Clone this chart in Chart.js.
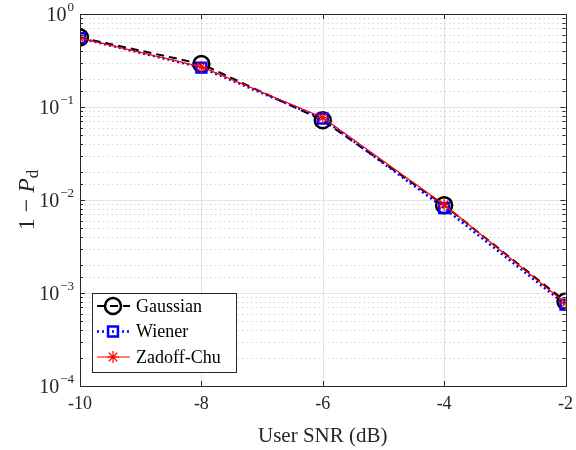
<!DOCTYPE html>
<html>
<head>
<meta charset="utf-8">
<script src="https://cdn.jsdelivr.net/npm/chart.js@4.4.0/dist/chart.umd.min.js"></script>
<style>
  html, body { margin: 0; padding: 0; background: #fff; }
  #wrap { width: 576px; height: 450px; }
</style>
</head>
<body>
<div id="wrap"><canvas id="grafico" width="576" height="450"></canvas></div>
<script>
// dados
const snr = [-10, -8, -6, -4, -2];
const gaussian = [0.56, 0.29, 0.072, 0.0088, 0.00081];
const wiener = [0.55, 0.265, 0.075, 0.0082, 0.00075];
const zadoffChu = [0.55, 0.27, 0.077, 0.0089, 0.00078];
const xTicks = [-10, -8, -6, -4, -2];
const yExpoentes = [0, -1, -2, -3, -4];

const fonte = '"Liberation Serif", "DejaVu Serif", serif';

function pontos(vals) {
    return snr.map(function (x, i) { return { x: x, y: vals[i] }; });
}

// desenha grade, caixa, rótulos e legenda à moda do MATLAB
const estiloMatlab = {
    id: 'estiloMatlab',
    beforeDatasetsDraw(chart) {
        const ctx = chart.ctx;
        const a = chart.chartArea;
        const sx = chart.scales.x, sy = chart.scales.y;
        ctx.save();
        // grade menor (pontilhada)
        ctx.strokeStyle = '#d4d4d4';
        ctx.lineWidth = 1;
        ctx.setLineDash([1.5, 3]);
        sy.ticks.forEach(function (t) {
            const lg = Math.log10(t.value);
            if (Math.abs(lg - Math.round(lg)) < 1e-6) return;
            const y = Math.round(sy.getPixelForValue(t.value)) + 0.5;
            ctx.beginPath(); ctx.moveTo(a.left, y); ctx.lineTo(a.right, y); ctx.stroke();
        });
        // grade maior
        ctx.setLineDash([]);
        ctx.strokeStyle = '#e3e3e3';
        sy.ticks.forEach(function (t) {
            const lg = Math.log10(t.value);
            if (Math.abs(lg - Math.round(lg)) > 1e-6) return;
            const y = Math.round(sy.getPixelForValue(t.value)) + 0.5;
            ctx.beginPath(); ctx.moveTo(a.left, y); ctx.lineTo(a.right, y); ctx.stroke();
        });
        sx.ticks.forEach(function (t) {
            const x = Math.round(sx.getPixelForValue(t.value)) + 0.5;
            ctx.beginPath(); ctx.moveTo(x, a.top); ctx.lineTo(x, a.bottom); ctx.stroke();
        });
        ctx.restore();
    },
    afterDatasetsDraw(chart) {
        const ctx = chart.ctx;
        const a = chart.chartArea;
        const sx = chart.scales.x, sy = chart.scales.y;
        ctx.save();
        ctx.strokeStyle = '#262626';
        ctx.lineWidth = 1;
        // marcas (para dentro)
        sy.ticks.forEach(function (t) {
            const lg = Math.log10(t.value);
            const maior = Math.abs(lg - Math.round(lg)) < 1e-6;
            const L = maior ? 5 : 3;
            const y = Math.round(sy.getPixelForValue(t.value)) + 0.5;
            ctx.beginPath();
            ctx.moveTo(a.left, y); ctx.lineTo(a.left + L, y);
            ctx.moveTo(a.right, y); ctx.lineTo(a.right - L, y);
            ctx.stroke();
        });
        sx.ticks.forEach(function (t) {
            const x = Math.round(sx.getPixelForValue(t.value)) + 0.5;
            ctx.beginPath();
            ctx.moveTo(x, a.bottom); ctx.lineTo(x, a.bottom - 5);
            ctx.moveTo(x, a.top); ctx.lineTo(x, a.top + 5);
            ctx.stroke();
        });
        // caixa
        ctx.strokeRect(Math.round(a.left) + 0.5, Math.round(a.top) + 0.5,
            Math.round(a.right - a.left), Math.round(a.bottom - a.top));

        // rótulos do eixo x
        ctx.fillStyle = '#262626';
        ctx.font = '18px ' + fonte;
        ctx.textAlign = 'center';
        ctx.textBaseline = 'middle';
        xTicks.forEach(function (v) {
            ctx.fillText(String(v), sx.getPixelForValue(v), a.bottom + 18);
        });
        // rótulos do eixo y (10^n)
        yExpoentes.forEach(function (e) {
            const y = sy.getPixelForValue(Math.pow(10, e));
            const sup = e === 0 ? '0' : '\u2212' + Math.abs(e);
            ctx.font = '13px ' + fonte;
            const wSup = ctx.measureText(sup).width;
            ctx.textAlign = 'left';
            ctx.textBaseline = 'alphabetic';
            const xSup = a.left - 6 - wSup;
            ctx.fillText(sup, xSup, y - 3);
            ctx.font = '20px ' + fonte;
            const w10 = ctx.measureText('10').width;
            ctx.fillText('10', xSup - w10 - 1, y + 7);
        });
        // título x
        ctx.font = '21px ' + fonte;
        ctx.textAlign = 'center';
        ctx.textBaseline = 'middle';
        ctx.fillText('User SNR (dB)', (a.left + a.right) / 2, 436);
        // título y: 1 − P_d
        ctx.save();
        ctx.translate(26, 200);
        ctx.rotate(-Math.PI / 2);
        ctx.textBaseline = 'alphabetic';
        ctx.textAlign = 'left';
        ctx.font = '24px ' + fonte;
        const p1 = '1 \u2212 ';
        const w1 = ctx.measureText(p1).width;
        ctx.font = 'italic 24px ' + fonte;
        const w2 = ctx.measureText('P').width;
        ctx.font = '17px ' + fonte;
        const w3 = ctx.measureText('d').width;
        let x0 = -(w1 + w2 + w3) / 2;
        ctx.font = '24px ' + fonte;
        ctx.fillText(p1, x0, 8);
        ctx.font = 'italic 24px ' + fonte;
        ctx.fillText('P', x0 + w1, 8);
        ctx.font = '17px ' + fonte;
        ctx.fillText('d', x0 + w1 + w2, 12);
        ctx.restore();

        // legenda
        const lx = 92, ly = 293, lw = 144, lh = 79;
        ctx.fillStyle = '#ffffff';
        ctx.fillRect(lx, ly, lw, lh);
        ctx.strokeStyle = '#262626';
        ctx.lineWidth = 1;
        ctx.strokeRect(lx + 0.5, ly + 0.5, lw, lh);
        chart.data.datasets.forEach(function (ds, i) {
            const yy = ly + 13 + i * 25.5;
            ctx.save();
            ctx.strokeStyle = ds.borderColor;
            ctx.lineWidth = ds.borderWidth;
            ctx.setLineDash(ds.borderDash || []);
            ctx.beginPath(); ctx.moveTo(lx + 5, yy); ctx.lineTo(lx + 38, yy); ctx.stroke();
            ctx.setLineDash([]);
            ctx.strokeStyle = ds.pointBorderColor;
            ctx.fillStyle = 'rgba(0,0,0,0)';
            ctx.lineWidth = ds.pointBorderWidth;
            Chart.helpers.drawPoint(ctx, {
                pointStyle: ds.pointStyle,
                radius: ds.pointRadius,
                borderWidth: ds.pointBorderWidth,
                rotation: 0
            }, lx + 21, yy);
            ctx.restore();
            ctx.fillStyle = '#000';
            ctx.font = '18px ' + fonte;
            ctx.textAlign = 'left';
            ctx.textBaseline = 'middle';
            ctx.fillText(ds.label, lx + 44, yy + 1);
        });
        ctx.restore();
    }
};

function plotar() {
    const ctx = document.getElementById('grafico').getContext('2d');
    new Chart(ctx, {
        type: 'line',
        data: {
            datasets: [{
                label: 'Gaussian',
                data: pontos(gaussian),
                borderColor: '#000000',
                borderWidth: 2,
                borderDash: [8, 5],
                pointStyle: 'circle',
                pointRadius: 8,
                pointBorderWidth: 2.5,
                pointBorderColor: '#000000',
                pointBackgroundColor: 'rgba(0,0,0,0)',
                order: 3
            }, {
                label: 'Wiener',
                data: pontos(wiener),
                borderColor: '#0000ff',
                borderWidth: 2.5,
                borderDash: [2, 3],
                pointStyle: 'rect',
                pointRadius: 7,
                pointBorderWidth: 2.5,
                pointBorderColor: '#0000ff',
                pointBackgroundColor: 'rgba(0,0,0,0)',
                order: 2
            }, {
                label: 'Zadoff-Chu',
                data: pontos(zadoffChu),
                borderColor: '#ff0000',
                borderWidth: 1.2,
                pointStyle: 'star',
                pointRadius: 6,
                pointBorderWidth: 1.2,
                pointBorderColor: '#ff0000',
                pointBackgroundColor: 'rgba(0,0,0,0)',
                order: 1
            }]
        },
        options: {
            responsive: false,
            animation: false,
            devicePixelRatio: 1,
            layout: { padding: { top: 14, right: 10, left: 0, bottom: 0 } },
            plugins: { legend: { display: false }, tooltip: { enabled: false } },
            scales: {
                x: {
                    type: 'linear', min: -10, max: -2,
                    ticks: { display: false, stepSize: 2 },
                    grid: { display: false },
                    border: { display: false },
                    afterFit: function (s) { s.height = 64; }
                },
                y: {
                    type: 'logarithmic', min: 1e-4, max: 1,
                    ticks: { display: false },
                    grid: { display: false },
                    border: { display: false },
                    afterFit: function (s) { s.width = 80; }
                }
            }
        },
        plugins: [estiloMatlab]
    });
}
plotar();
</script>
</body>
</html>
